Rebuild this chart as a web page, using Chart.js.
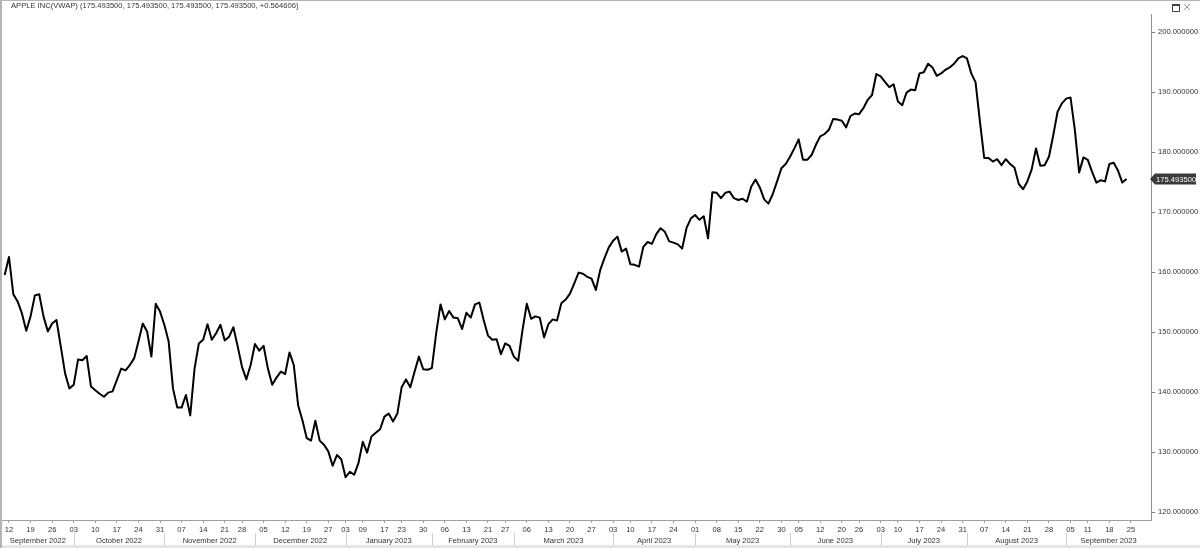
<!DOCTYPE html>
<html>
<head>
<meta charset="utf-8">
<script src="https://cdn.jsdelivr.net/npm/chart.js@4/dist/chart.umd.min.js"></script>
<style>
  html, body { margin: 0; padding: 0; background: #fff; overflow: hidden; }
  canvas { display: block; }
</style>
</head>
<body>
<canvas id="chart" width="1200" height="548"></canvas>
<script>
const TITLE = 'APPLE INC(VWAP) (175.493500, 175.493500, 175.493500, 175.493500, +0.564606)';
const START_DATE = '2022-09-09';
const HOLIDAYS = ['2022-11-24', '2022-12-26', '2023-01-02', '2023-01-16', '2023-02-20',
                  '2023-04-07', '2023-05-29', '2023-06-19', '2023-07-04', '2023-09-04'];
const FUTURE_DAYS = 5; // empty trading days drawn right of the last bar
const MONTHS = ['January', 'February', 'March', 'April', 'May', 'June', 'July',
                'August', 'September', 'October', 'November', 'December'];

// daily VWAP, one value per trading day from 2022-09-09 to 2023-09-22
const vwap = [
  159.5, 162.5, 156.3, 155.1, 153.1, 150.2, 152.6, 156.1, 156.3, 152.6,
  150.1, 151.4, 152.0, 147.6, 143.1, 140.6, 141.2, 145.4, 145.3, 146.0,
  140.9, 140.3, 139.7, 139.2, 139.9, 140.1, 142.0, 143.9, 143.6, 144.5,
  145.6, 148.4, 151.4, 150.1, 145.9, 154.7, 153.4, 151.2, 148.4, 140.6,
  137.4, 137.4, 139.5, 136.1, 143.9, 148.1, 148.7, 151.3, 148.7, 149.8,
  151.2, 148.6, 149.2, 150.8, 147.6, 144.2, 142.1, 144.5, 148.0, 146.9,
  147.7, 143.9, 141.2, 142.4, 143.4, 143.0, 146.6, 144.5, 137.8, 135.3,
  132.3, 131.9, 135.2, 131.9, 131.2, 130.1, 127.7, 129.5, 128.8, 125.8,
  126.7, 126.2, 128.2, 131.7, 129.9, 132.6, 133.2, 133.8, 135.9, 136.4,
  135.1, 136.4, 140.8, 142.1, 140.8, 143.4, 145.9, 143.8, 143.7, 144.0,
  149.8, 154.6, 152.1, 153.5, 152.4, 152.3, 150.5, 153.2, 152.4, 154.6,
  154.9, 152.0, 149.4, 148.7, 148.8, 146.3, 148.1, 147.7, 145.9, 145.2,
  150.3, 154.7, 152.2, 152.6, 152.4, 149.1, 151.3, 152.1, 151.9, 154.8,
  155.4, 156.4, 158.1, 159.9, 159.7, 159.2, 158.9, 157.0, 160.3, 162.3,
  164.1, 165.2, 165.9, 163.4, 163.9, 161.3, 161.2, 160.9, 164.2, 165.0,
  164.7, 166.3, 167.3, 166.7, 165.1, 164.9, 164.6, 163.9, 167.3, 168.9,
  169.5, 168.7, 169.3, 165.6, 173.3, 173.2, 172.3, 173.2, 173.4, 172.3,
  172.0, 172.2, 171.7, 174.2, 175.4, 174.1, 172.1, 171.4, 173.0, 175.1,
  177.3, 178.0, 179.2, 180.6, 182.1, 178.7, 178.7, 179.5, 181.2, 182.6,
  183.0, 183.7, 185.5, 185.4, 185.2, 184.1, 186.0, 186.4, 186.3, 187.3,
  188.7, 189.5, 193.0, 192.6, 191.7, 190.8, 191.3, 188.4, 187.8, 189.9,
  190.4, 190.3, 193.1, 193.3, 194.7, 194.1, 192.7, 193.1, 193.7, 194.1,
  194.7, 195.6, 196.0, 195.6, 193.1, 191.6, 185.1, 179.0, 179.0, 178.4,
  178.8, 177.8, 178.8, 178.0, 177.4, 174.7, 173.8, 175.1, 177.1, 180.6,
  177.7, 177.8, 179.2, 182.8, 186.7, 188.1, 188.9, 189.1, 183.7, 176.6,
  179.1, 178.7, 176.7, 174.9, 175.3, 175.1, 178.0, 178.2, 176.9, 174.9,
  175.4935
];
const yTicks = [120, 130, 140, 150, 160, 170, 180, 190, 200];

const FONT = "'Liberation Sans', Arial, sans-serif";
const FONT_SIZE = 7.6;
const TEXT = '#333';

// trading calendar for the x axis
function tradingDays(start, count) {
  const out = [];
  const d = new Date(start + 'T00:00:00Z');
  while (out.length < count) {
    const wd = d.getUTCDay();
    const iso = d.toISOString().slice(0, 10);
    if (wd !== 0 && wd !== 6 && !HOLIDAYS.includes(iso)) out.push(new Date(d));
    d.setUTCDate(d.getUTCDate() + 1);
  }
  return out;
}
const days = tradingDays(START_DATE, vwap.length + FUTURE_DAYS);

const weekStarts = [];
const monthStarts = [];
for (let i = 1; i < days.length; i++) {
  if (days[i].getUTCDay() <= days[i - 1].getUTCDay()) weekStarts.push(i);
  if (days[i].getUTCMonth() !== days[i - 1].getUTCMonth()) monthStarts.push(i);
}

const points = vwap.map((v, i) => ({ x: i, y: v }));

const framePlugin = {
  id: 'frame',
  afterDraw(chart) {
    const { ctx, chartArea: a, scales: { x, y } } = chart;
    const W = chart.width, H = chart.height;
    ctx.save();

    // window frame
    ctx.fillStyle = '#b4b4b4';
    ctx.fillRect(0, 0, 2, H);
    ctx.fillRect(0, 0, W, 1);
    ctx.fillStyle = '#e6e6e6';
    ctx.fillRect(2, H - 3, W - 2, 3);

    // title
    ctx.font = FONT_SIZE + 'px ' + FONT;
    ctx.fillStyle = TEXT;
    ctx.textBaseline = 'middle';
    ctx.textAlign = 'left';
    ctx.fillText(TITLE, 11, 6);

    // window buttons
    ctx.strokeStyle = '#444';
    ctx.lineWidth = 1;
    ctx.strokeRect(1172.5, 4.5, 7, 7);
    ctx.fillStyle = '#444';
    ctx.fillRect(1172, 4, 8, 2);
    ctx.strokeStyle = '#999';
    ctx.beginPath();
    ctx.moveTo(1184, 4); ctx.lineTo(1190, 10);
    ctx.moveTo(1190, 4); ctx.lineTo(1184, 10);
    ctx.stroke();

    // month row
    const bounds = [a.left, ...monthStarts.map(i => x.getPixelForValue(i)), a.right];
    const firstMonthDay = [0, ...monthStarts];
    ctx.strokeStyle = '#d0d0d0';
    ctx.beginPath();
    monthStarts.forEach(i => {
      const px = Math.round(x.getPixelForValue(i)) + 0.5;
      ctx.moveTo(px, a.bottom + 13);
      ctx.lineTo(px, H - 3);
    });
    ctx.stroke();
    ctx.fillStyle = TEXT;
    ctx.textAlign = 'center';
    for (let k = 0; k < bounds.length - 1; k++) {
      const d = days[firstMonthDay[k]];
      const label = MONTHS[d.getUTCMonth()] + ' ' + d.getUTCFullYear();
      ctx.fillText(label, (bounds[k] + bounds[k + 1]) / 2, a.bottom + 20.5);
    }

    // last value tag
    const last = vwap[vwap.length - 1];
    const py = Math.round(y.getPixelForValue(last));
    const x0 = a.right - 1;
    ctx.fillStyle = '#3a3a3a';
    ctx.beginPath();
    ctx.moveTo(x0, py);
    ctx.lineTo(x0 + 5, py - 5.5);
    ctx.lineTo(x0 + 46, py - 5.5);
    ctx.lineTo(x0 + 46, py + 5.5);
    ctx.lineTo(x0 + 5, py + 5.5);
    ctx.closePath();
    ctx.fill();
    ctx.fillStyle = '#fff';
    ctx.textAlign = 'left';
    ctx.fillText(last.toFixed(6), x0 + 6, py + 0.5);

    ctx.restore();
  }
};

new Chart(document.getElementById('chart'), {
  type: 'line',
  data: {
    datasets: [{
      data: points,
      borderColor: '#000',
      borderWidth: 2,
      borderJoinStyle: 'round',
      pointRadius: 0,
      tension: 0,
      fill: false
    }]
  },
  options: {
    responsive: false,
    animation: false,
    devicePixelRatio: 1,
    layout: { padding: { left: 2, top: 14, right: 0, bottom: 0 } },
    plugins: { legend: { display: false }, tooltip: { enabled: false } },
    scales: {
      x: {
        type: 'linear',
        min: -0.62,
        max: 265.65,
        afterBuildTicks: s => { s.ticks = weekStarts.map(i => ({ value: i })); },
        afterFit: s => { s.height = 28; },
        grid: { drawOnChartArea: false, drawTicks: true, tickLength: 3, color: '#a0a0a0' },
        border: { color: '#a0a0a0' },
        ticks: {
          autoSkip: false,
          maxRotation: 0,
          padding: 2,
          color: TEXT,
          font: { family: FONT, size: FONT_SIZE },
          callback: v => String(days[v].getUTCDate()).padStart(2, '0')
        }
      },
      y: {
        position: 'right',
        min: 118.667,
        max: 203,
        afterBuildTicks: s => { s.ticks = yTicks.map(v => ({ value: v })); },
        afterFit: s => { s.width = 49; },
        grid: { drawOnChartArea: false, drawTicks: true, tickLength: 4, color: '#808080' },
        border: { color: '#909090' },
        ticks: {
          padding: 3,
          color: TEXT,
          font: { family: FONT, size: FONT_SIZE },
          callback: v => v.toFixed(6)
        }
      }
    }
  },
  plugins: [framePlugin]
});
</script>
</body>
</html>
